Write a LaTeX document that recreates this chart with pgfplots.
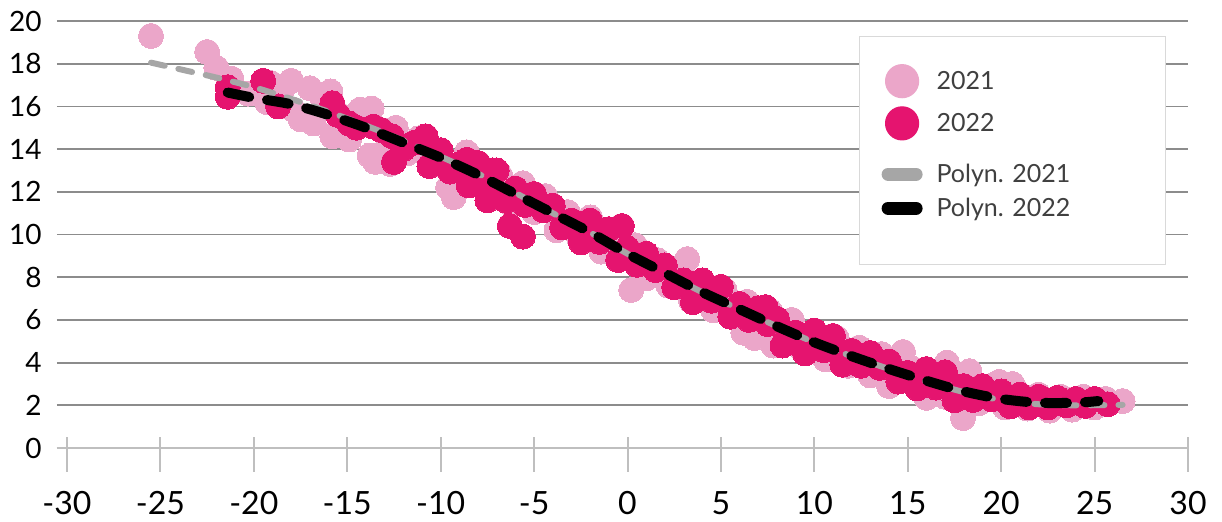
\documentclass[border=0pt]{standalone}
\usepackage{pgfplots}
\pgfplotsset{compat=1.18}
\usepackage{fontspec}
\setmainfont{Lato}

\definecolor{pk21}{HTML}{EBA6C9}
\definecolor{pk22}{HTML}{E5146F}
\definecolor{tr21}{HTML}{A6A6A6}
\definecolor{gridc}{HTML}{8C8C8C}
\definecolor{axc}{HTML}{BFBFBF}
\definecolor{legbd}{HTML}{D9D9D9}
\definecolor{legtxt}{HTML}{404040}

\begin{document}
\begin{tikzpicture}
\begin{axis}[
  scale only axis,
  width=565.5pt, height=213.5pt,
  xmin=-30.535, xmax=30, ymin=0, ymax=20,
  clip marker paths=true,
  xtick={-30,-25,-20,-15,-10,-5,0,5,10,15,20,25,30},
  xticklabels={-30,-25,-20,-15,-10,-5,0,5,10,15,20,25,30},
  ytick={0,2,4,6,8,10,12,14,16,18,20},
  axis x line*=bottom, axis y line*=left,
  x axis line style={axc, line width=1pt},
  y axis line style={draw=none},
  major tick length=0pt, tick style={draw=none},
  ymajorgrids, grid style={gridc, line width=0.9pt},
  /pgf/number format/assume math mode=true,
  xticklabel style={font=\fontsize{16}{19}\selectfont, anchor=north, inner sep=0pt, yshift=-21.5pt},
  yticklabel style={font=\fontsize{14}{17}\selectfont, anchor=east, inner sep=0pt, xshift=-7.5pt},
  legend style={at={(0.70911,0.96495)}, anchor=north west, draw=legbd, line width=0.6pt,
    fill=white, inner xsep=11pt, inner ysep=13.75pt, row sep=4pt, column sep=7pt,
    cells={anchor=base west},
    nodes={inner sep=0pt, text=legtxt, font=\fontsize{12.5}{15}\selectfont}},
]

% 2021 scatter
\addplot[color=pk21, only marks, mark=*, mark size=6.25pt, mark options={draw=pk21, fill=pk21, line width=0pt},
  legend image code/.code={\fill[pk21] (7pt,4.3pt) circle (8.25pt);}]
coordinates {
(-25.5,19.3) (-22.5,18.55) (-22.0,17.8) (-21.2,17.3) (-20.3,16.6) (-19.3,16.2)
(-19.1,17.1) (-18.4,16.9) (-18.0,17.2) (-17.9,15.85) (-17.5,15.4) (-17.0,16.85)
(-16.8,15.2) (-16.3,16.3) (-15.9,16.7) (-15.8,14.6) (-15.4,15.6) (-14.9,14.45)
(-14.3,15.85) (-13.7,15.9) (-13.8,13.7) (-13.5,13.4) (-12.9,14.0) (-12.4,15.0)
(-12.7,13.3) (-11.8,13.8) (-11.2,14.5) (-10.6,13.5) (-10.0,13.3) (-9.6,12.2)
(-9.3,11.75) (-8.6,13.85) (-8.0,12.4) (-7.4,12.9) (-6.8,12.75) (-6.2,11.4)
(-5.6,12.4) (-5.0,11.05) (-4.4,11.8) (-3.8,10.2) (-3.2,11.05) (-2.6,9.85)
(-2.0,10.8) (-1.4,9.2) (-0.8,10.0) (-0.2,8.9) (0.2,7.4) (0.4,9.5)
(1.0,7.95) (1.6,8.8) (2.2,7.6) (2.8,8.45) (3.2,8.85) (3.4,6.9)
(4.0,7.8) (4.6,6.45) (5.2,7.4) (5.8,6.2) (6.2,5.4) (6.4,6.85)
(6.8,5.15) (7.0,5.5) (7.6,6.45) (7.8,4.8) (8.2,5.2) (8.8,6.0)
(9.4,4.55) (10.0,5.45) (10.6,4.15) (11.2,5.15) (11.8,3.85) (12.4,4.7)
(13.0,3.4) (13.6,4.4) (14.0,2.9) (14.2,3.35) (14.75,4.5) (15.2,3.75)
(16.0,2.35) (16.4,3.45) (17.0,2.4) (17.1,4.0) (17.96,1.4) (18.3,3.6)
(18.8,2.1) (19.4,2.9) (19.9,3.1) (20.2,1.9) (20.6,3.0) (20.8,2.7)
(21.4,1.85) (22.0,2.5) (22.6,1.75) (23.2,2.4) (23.8,1.8) (24.4,2.4)
(25.0,1.9) (25.6,2.3) (26.5,2.2)
};
\addlegendentry{\makebox[103.5pt][l]{2021}}

% 2022 scatter
\addplot[color=pk22, only marks, mark=*, mark size=6.25pt, mark options={draw=pk22, fill=pk22, line width=0pt},
  legend image code/.code={\fill[pk22] (7pt,4.3pt) circle (8.25pt); \path[draw=none, fill=none] (0pt,0pt) -- (0pt,-12.2pt);}]
coordinates {
(-21.4,16.9) (-21.4,16.45) (-19.5,17.2) (-18.7,16.0) (-15.8,16.15) (-15.5,15.6)
(-14.9,15.2) (-14.5,15.0) (-13.6,15.05) (-13.2,14.9) (-12.6,14.6) (-12.5,13.4)
(-12.0,14.0) (-11.4,14.3) (-10.8,14.6) (-10.6,13.2)
(-10,13.95) (-9.5,12.95) (-9,13.3) (-8.5,12.3) (-8,13.35) (-7.5,12.38)
(-7,13.0) (-6.5,11.58) (-6,12.15) (-5.5,11.38) (-5,11.9) (-4.5,11.13)
(-4,11.35) (-3.5,10.33) (-3,10.65) (-2.5,9.63) (-2,10.65) (-1.5,9.65)
(-1,10.25) (-0.5,8.8) (0,9.35) (0.5,8.58) (1,9.1) (1.5,8.33)
(2,8.55) (2.5,7.53) (3,7.85) (3.5,6.83) (4,7.85) (4.5,6.9)
(5,7.55) (5.5,6.15) (6,6.75) (6.5,6.0) (7,6.55) (7.5,5.8)
(8,6.05) (8.5,5.05) (9,5.4) (9.5,4.43) (10,5.5) (10.5,4.58)
(11,5.25) (11.5,3.9) (12,4.55) (12.5,3.85) (13,4.45) (13.5,3.75)
(14,4.05) (14.5,3.11) (15,3.52) (15.5,2.79) (16,3.7) (16.5,2.83)
(17,3.55) (17.5,2.23) (18,2.9) (18.5,2.25) (19,2.9) (19.5,2.28)
(20,2.65) (20.5,1.95) (21,2.5) (21.5,1.9) (22,2.4) (22.5,1.9)
(23,2.35) (23.5,2.0) (24,2.3) (24.5,1.97) (25,2.3) (25.7,2.05)
(-8.6,13.5) (-7.5,11.6) (-7.2,13.0) (-6.3,10.4) (-5.6,9.9) (8.3,4.8)
(-0.3,10.4) (7.4,6.6)
};
\addlegendentry{\makebox[103.5pt][l]{2022}}

% polynomial trend 2021
\addplot[tr21, line width=3pt, line cap=round, dash pattern=on 7pt off 7pt, smooth,
  legend image code/.code={\draw[tr21, solid, line width=6.5pt, line cap=round] (0pt,4.3pt) -- (14pt,4.3pt); \path[draw=none, fill=none] (0pt,0pt) -- (0pt,-3.8pt);}]
coordinates {
(-25.5,18.05) (-24,17.75) (-22,17.35) (-20,16.9) (-18,16.35) (-16,15.75)
(-14,15.1) (-12,14.4) (-10,13.65) (-8,12.85) (-6,11.95) (-4,11.0)
(-2,10.1) (0,9.1) (2,8.2) (4,7.3) (6,6.5) (8,5.7)
(10,4.95) (12,4.3) (14,3.7) (16,3.12) (18,2.62) (20,2.25)
(22,2.05) (24,2.0) (26.5,2.02)
};
\addlegendentry{\makebox[103.5pt][l]{Polyn. 2021}}

% polynomial trend 2022
\addplot[black, line width=5pt, line cap=round, dash pattern=on 11pt off 9pt, smooth,
  legend image code/.code={\draw[black, solid, line width=6.5pt, line cap=round] (0pt,4.3pt) -- (14pt,4.3pt); \path[draw=none, fill=none] (0pt,0pt) -- (0pt,-9.95pt);}]
coordinates {
(-21.4,16.65) (-20,16.4) (-18,16.1) (-16,15.6) (-14,15.0) (-12,14.3)
(-10,13.6) (-8,12.8) (-6,11.9) (-4,11.0) (-2,10.1) (0,9.1)
(2,8.2) (4,7.3) (6,6.5) (8,5.7) (10,4.95) (12,4.3)
(14,3.7) (16,3.15) (18,2.65) (20,2.3) (22,2.12) (24,2.12) (25.2,2.2)
};
\addlegendentry{\makebox[103.5pt][l]{Polyn. 2022}}

% positions of the horizontal axis ticks
\pgfplotsinvokeforeach{-30,-25,-20,-15,-10,-5,0,5,10,15,20,25,30}{
  \coordinate (xt#1) at (axis cs:#1,0);
}
\end{axis}
% crossing tick marks, drawn outside the clipped plot area
\foreach \v in {-30,-25,-20,-15,-10,-5,0,5,10,15,20,25,30}{
  \draw[axc, line width=1pt] (xt\v) ++(0pt,5.5pt) -- ++(0pt,-17.5pt);
}
\pgfresetboundingbox
\path[use as bounding box] (-28.5pt,-36.5pt) rectangle (582.5pt,224pt);
\end{tikzpicture}
\end{document}
